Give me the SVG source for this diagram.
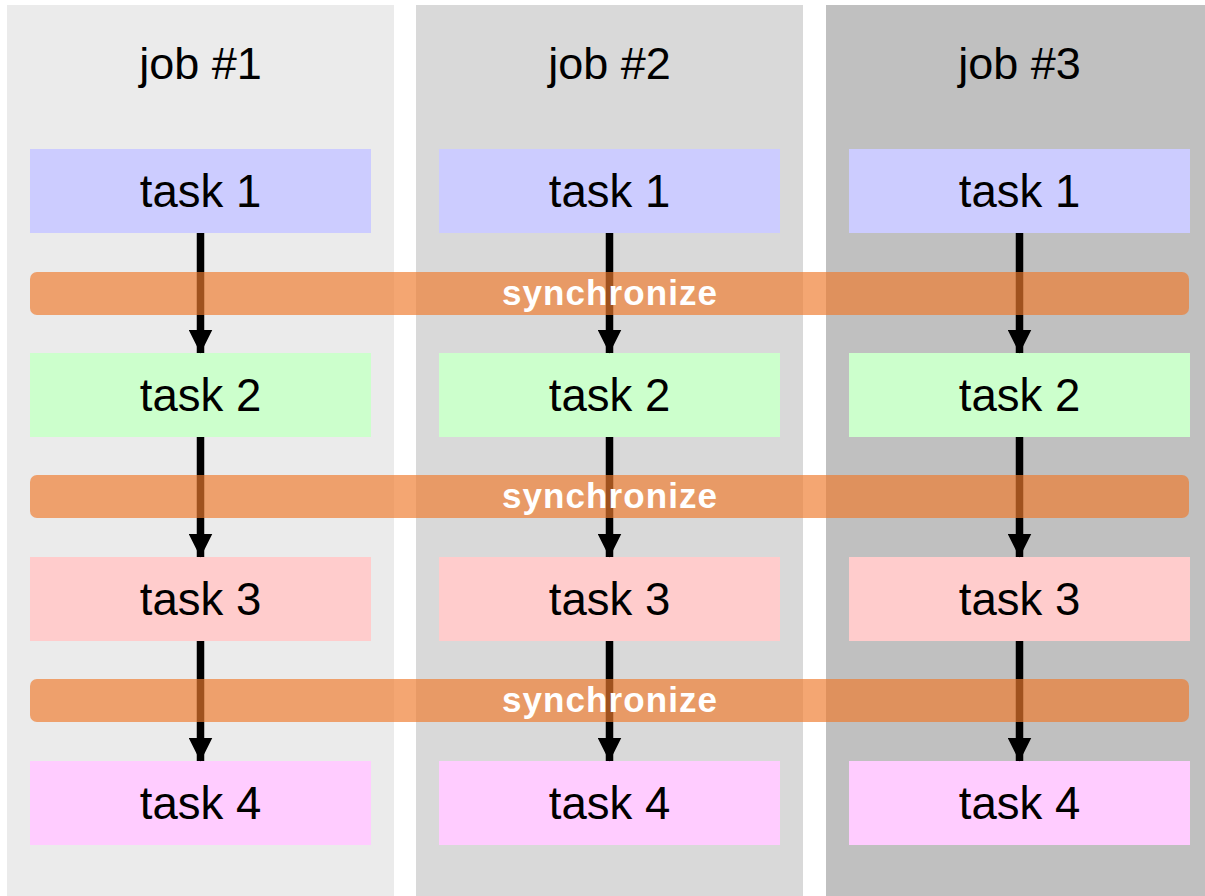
<svg xmlns="http://www.w3.org/2000/svg" width="1205" height="896" viewBox="0 0 1205 896">
<style>
.job{font-family:"Liberation Sans",Arial,sans-serif;font-size:45px;fill:#000;text-anchor:middle}
.task{font-family:"Liberation Sans",Arial,sans-serif;font-size:45.5px;fill:#000;text-anchor:middle}
.sync{font-family:"Liberation Sans",Arial,sans-serif;font-size:35px;font-weight:bold;fill:#fff;text-anchor:middle}
.bar{fill:#ef7a2d;fill-opacity:0.67}
.arrow{stroke:#000;stroke-width:7.5;fill:none}
.t1{fill:#ccccff}.t2{fill:#ccffcc}.t3{fill:#ffcccc}.t4{fill:#ffccff}
</style>
<defs>
<marker id="ah" markerUnits="userSpaceOnUse" markerWidth="24" markerHeight="24" refX="23.5" refY="12" orient="auto" viewBox="0 0 24 24">
<path d="M0,0 L24,12 L0,24 Z" fill="#000"/>
</marker>
</defs>
<rect width="1205" height="896" fill="#fff"/>
<g id="job1">
<rect x="7" y="5" width="387" height="891" fill="#ebebeb"/>
<text class="job" x="200.5" y="79">job #1</text>
</g>
<g id="job2">
<rect x="416" y="5" width="387" height="891" fill="#d9d9d9"/>
<text class="job" x="609.5" y="79">job #2</text>
</g>
<g id="job3">
<rect x="826" y="5" width="379" height="891" fill="#c0c0c0"/>
<text class="job" x="1019.5" y="79">job #3</text>
</g>
<g id="j1-task1"><rect class="t1" x="30" y="149" width="341" height="84"/><text class="task" x="200.5" y="207">task 1</text></g>
<g id="j1-task2"><rect class="t2" x="30" y="353" width="341" height="84"/><text class="task" x="200.5" y="411">task 2</text></g>
<g id="j1-task3"><rect class="t3" x="30" y="557" width="341" height="84"/><text class="task" x="200.5" y="615">task 3</text></g>
<g id="j1-task4"><rect class="t4" x="30" y="761" width="341" height="84"/><text class="task" x="200.5" y="819">task 4</text></g>
<g id="j2-task1"><rect class="t1" x="439" y="149" width="341" height="84"/><text class="task" x="609.5" y="207">task 1</text></g>
<g id="j2-task2"><rect class="t2" x="439" y="353" width="341" height="84"/><text class="task" x="609.5" y="411">task 2</text></g>
<g id="j2-task3"><rect class="t3" x="439" y="557" width="341" height="84"/><text class="task" x="609.5" y="615">task 3</text></g>
<g id="j2-task4"><rect class="t4" x="439" y="761" width="341" height="84"/><text class="task" x="609.5" y="819">task 4</text></g>
<g id="j3-task1"><rect class="t1" x="849" y="149" width="341" height="84"/><text class="task" x="1019.5" y="207">task 1</text></g>
<g id="j3-task2"><rect class="t2" x="849" y="353" width="341" height="84"/><text class="task" x="1019.5" y="411">task 2</text></g>
<g id="j3-task3"><rect class="t3" x="849" y="557" width="341" height="84"/><text class="task" x="1019.5" y="615">task 3</text></g>
<g id="j3-task4"><rect class="t4" x="849" y="761" width="341" height="84"/><text class="task" x="1019.5" y="819">task 4</text></g>
<g id="connectors">
<line class="arrow" x1="200.5" y1="233" x2="200.5" y2="353" marker-end="url(#ah)"/>
<line class="arrow" x1="200.5" y1="437" x2="200.5" y2="557" marker-end="url(#ah)"/>
<line class="arrow" x1="200.5" y1="641" x2="200.5" y2="761" marker-end="url(#ah)"/>
<line class="arrow" x1="609.5" y1="233" x2="609.5" y2="353" marker-end="url(#ah)"/>
<line class="arrow" x1="609.5" y1="437" x2="609.5" y2="557" marker-end="url(#ah)"/>
<line class="arrow" x1="609.5" y1="641" x2="609.5" y2="761" marker-end="url(#ah)"/>
<line class="arrow" x1="1019.5" y1="233" x2="1019.5" y2="353" marker-end="url(#ah)"/>
<line class="arrow" x1="1019.5" y1="437" x2="1019.5" y2="557" marker-end="url(#ah)"/>
<line class="arrow" x1="1019.5" y1="641" x2="1019.5" y2="761" marker-end="url(#ah)"/>
</g>
<g id="sync1">
<rect class="bar" x="30" y="272" width="1159" height="43" rx="7"/>
<text class="sync" x="609.5" y="305" textLength="215" lengthAdjust="spacing">synchronize</text>
</g>
<g id="sync2">
<rect class="bar" x="30" y="475" width="1159" height="43" rx="7"/>
<text class="sync" x="609.5" y="508" textLength="215" lengthAdjust="spacing">synchronize</text>
</g>
<g id="sync3">
<rect class="bar" x="30" y="679" width="1159" height="43" rx="7"/>
<text class="sync" x="609.5" y="712" textLength="215" lengthAdjust="spacing">synchronize</text>
</g>
</svg>
